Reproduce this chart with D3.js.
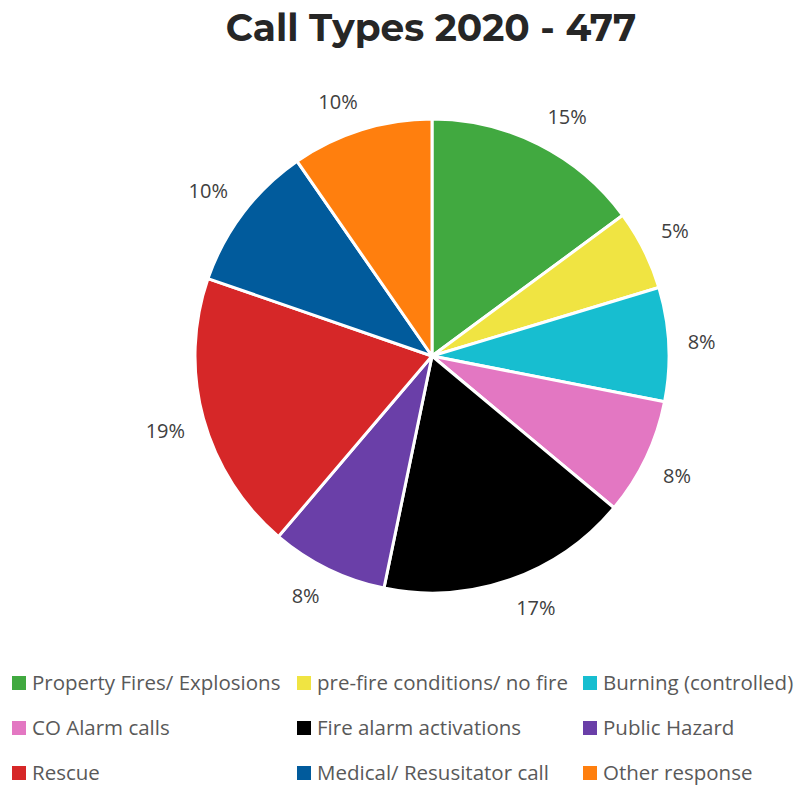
<!DOCTYPE html>
<html>
<head>
<meta charset="utf-8">
<script src="https://cdn.jsdelivr.net/npm/d3@7"></script>
<style>
  body { margin: 0; background: #fff; }
  svg { display: block; }
</style>
</head>
<body>
<svg id="chart" width="799" height="787"></svg>
<script>
// Call types, in pie order (clockwise from 12 o'clock)
const categories = [
  "Property Fires/ Explosions",
  "pre-fire conditions/ no fire",
  "Burning (controlled)",
  "CO Alarm calls",
  "Fire alarm activations",
  "Public Hazard",
  "Rescue",
  "Medical/ Resusitator call",
  "Other response"
];
const counts = [71, 26, 37, 38, 82, 38, 91, 48, 46];
const colors = ["#41a940", "#f0e442", "#17bed0", "#e377c2", "#000000",
                "#6a3fa8", "#d62728", "#015b9c", "#ff7f0e"];

const width = 799, height = 787;
const cx = 432, cy = 356, radius = 237;
const labelRadius = 256;

const svg = d3.select("#chart");

svg.append("text")
  .attr("x", 431).attr("y", 41)
  .attr("text-anchor", "middle")
  .attr("font-family", "Montserrat, 'DejaVu Sans', sans-serif")
  .attr("font-weight", "bold")
  .attr("font-size", 37.5)
  .attr("fill", "#262626")
  .text("Call Types 2020 - 477");

const total = d3.sum(counts);
const data = categories.map((name, i) => ({ name, value: counts[i], color: colors[i] }));

const pie = d3.pie().value(d => d.value).sort(null);
const arc = d3.arc().innerRadius(0).outerRadius(radius);

const g = svg.append("g").attr("transform", `translate(${cx},${cy})`);
const arcs = pie(data);

g.selectAll("path.slice")
  .data(arcs)
  .enter()
  .append("path")
  .attr("class", "slice")
  .attr("d", arc)
  .attr("fill", d => d.data.color)
  .attr("stroke", "#fff")
  .attr("stroke-width", 3)
  .attr("stroke-linejoin", "round");

// Outside-end labels: the label box corner nearest the pie sits on the label radius
const clamp = v => Math.max(-1, Math.min(1, v));
g.selectAll("text.pct")
  .data(arcs)
  .enter()
  .append("text")
  .attr("class", "pct")
  .attr("text-anchor", "middle")
  .attr("dy", "0.35em")
  .attr("font-family", "'Open Sans', sans-serif")
  .attr("font-size", 20)
  .attr("fill", "#404040")
  .text(d => d3.format(".0%")(d.data.value / total))
  .attr("transform", function (d) {
    const a = (d.startAngle + d.endAngle) / 2;
    const ux = Math.sin(a), uy = -Math.cos(a);
    const w = this.getComputedTextLength(), h = 20;
    const x = labelRadius * ux + (w / 2) * clamp(ux * 3);
    const y = labelRadius * uy + (h / 2) * clamp(uy * 3);
    return `translate(${x},${y})`;
  });

// Legend: three columns, three rows
const colX = [12, 297, 583];
const rowY = [683, 728, 773];
const legend = svg.append("g");
const item = legend.selectAll("g.item")
  .data(data)
  .enter()
  .append("g")
  .attr("class", "item")
  .attr("transform", (d, i) => `translate(${colX[i % 3]},${rowY[Math.floor(i / 3)]})`);

item.append("rect")
  .attr("x", 0).attr("y", -7)
  .attr("width", 14).attr("height", 14)
  .attr("fill", d => d.color);

item.append("text")
  .attr("x", 20)
  .attr("dy", "0.35em")
  .attr("font-family", "'Open Sans', sans-serif")
  .attr("font-size", 20.5)
  .attr("fill", "#595959")
  .text(d => d.name);
</script>
</body>
</html>
